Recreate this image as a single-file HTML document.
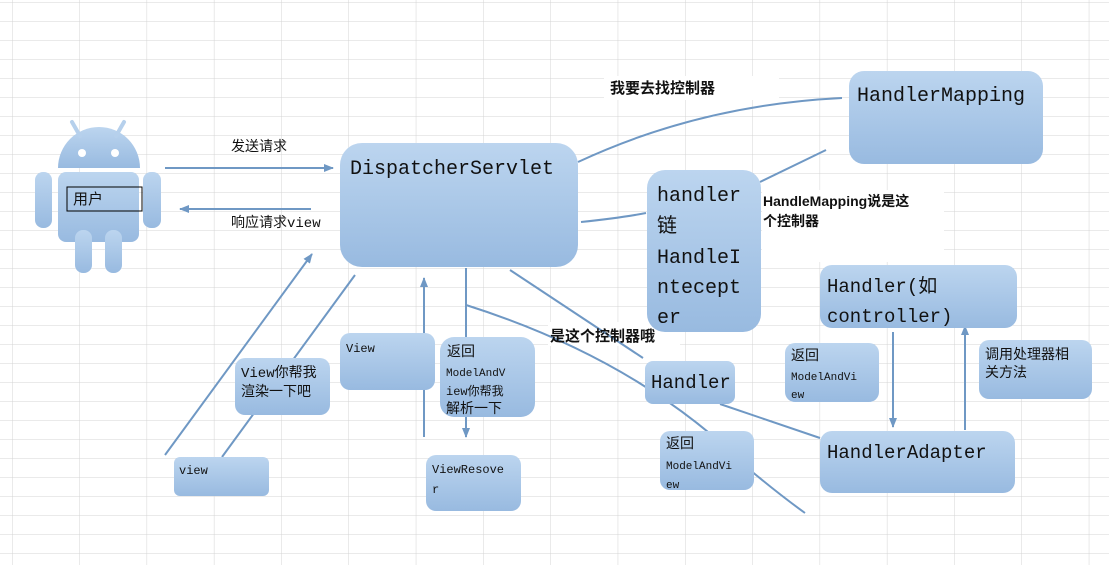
<!DOCTYPE html>
<html><head><meta charset="utf-8"><style>
html,body{margin:0;padding:0;background:#fff;}
svg{display:block;}
text{font-family:"Liberation Mono","Noto Sans CJK SC",monospace;fill:#111;}
.b{font-family:"Liberation Sans","Noto Sans CJK SC",sans-serif;font-weight:bold;}
</style></head><body>
<svg width="1109" height="565" viewBox="0 0 1109 565" xmlns="http://www.w3.org/2000/svg">
<defs>
<pattern id="grid" x="12" y="2" width="67.3" height="19" patternUnits="userSpaceOnUse">
<path d="M0 0V19M0 0H67.3" stroke="#d4d4d4" stroke-width="1" fill="none"/>
</pattern>
<linearGradient id="g" x1="0" y1="0" x2="0" y2="1">
<stop offset="0" stop-color="#bcd5ef"/><stop offset="1" stop-color="#98bae0"/>
</linearGradient>
<marker id="ar" markerWidth="10" markerHeight="8" refX="9" refY="4" orient="auto" markerUnits="userSpaceOnUse">
<path d="M0 0L10 4L0 8z" fill="#6f98c4"/>
</marker>
</defs>
<rect width="1109" height="565" fill="url(#grid)"/>
<!-- white label backgrounds -->
<rect x="604" y="76" width="175" height="24" fill="#fff"/>
<rect x="762" y="190" width="182" height="72" fill="#fff"/>
<rect x="548" y="322" width="132" height="24" fill="#fff"/>

<!-- android -->
<g fill="url(#g)">
<path d="M58 168A41 41 0 0 1 140 168Z"/>
<rect x="58" y="172" width="81" height="70" rx="8"/>
<rect x="35" y="172" width="17" height="56" rx="8"/>
<rect x="143" y="172" width="18" height="56" rx="8"/>
<rect x="75" y="230" width="17" height="43" rx="8"/>
<rect x="105" y="230" width="17" height="43" rx="8"/>
</g>
<path d="M72 122L80 136M124 122L116 136" stroke="#b6d0ec" stroke-width="4" stroke-linecap="round"/>
<circle cx="82" cy="153" r="4" fill="#fff"/><circle cx="115" cy="153" r="4" fill="#fff"/>
<rect x="67" y="187" width="75" height="24" fill="none" stroke="#000" stroke-width="1"/>
<text x="73" y="204" font-size="15">用户</text>

<!-- connectors -->
<g stroke="#6f98c4" stroke-width="2" fill="none">
<path d="M165 168H333" marker-end="url(#ar)"/>
<path d="M311 209H180" marker-end="url(#ar)"/>
<path d="M578 162Q700 105 842 98"/>
<path d="M581 222Q620 218 646 213"/>
<path d="M760 182L826 150"/>
<path d="M510 270L643 358"/>
<path d="M466 268V437" marker-end="url(#ar)"/>
<path d="M424 437V278" marker-end="url(#ar)"/>
<path d="M466 305Q640 360 750 470Q780 495 805 513"/>
<path d="M720 404L820 438"/>
<path d="M893 332V427" marker-end="url(#ar)"/>
<path d="M965 430V326" marker-end="url(#ar)"/>
<path d="M165 455L312 254" marker-end="url(#ar)"/>
<path d="M222 457L355 275"/>
</g>

<!-- boxes -->
<g fill="url(#g)">
<rect x="340" y="143" width="238" height="124" rx="22"/>
<rect x="849" y="71" width="194" height="93" rx="15"/>
<rect x="647" y="170" width="114" height="162" rx="18"/>
<rect x="820" y="265" width="197" height="63" rx="12"/>
<rect x="645" y="361" width="90" height="43" rx="8"/>
<rect x="820" y="431" width="195" height="62" rx="12"/>
<rect x="785" y="343" width="94" height="59" rx="10"/>
<rect x="979" y="340" width="113" height="59" rx="10"/>
<rect x="660" y="431" width="94" height="59" rx="10"/>
<rect x="426" y="455" width="95" height="56" rx="10"/>
<rect x="440" y="337" width="95" height="80" rx="14"/>
<rect x="340" y="333" width="95" height="57" rx="10"/>
<rect x="235" y="358" width="95" height="57" rx="10"/>
<rect x="174" y="457" width="95" height="39" rx="6"/>
</g>

<!-- texts -->
<text x="231" y="151" font-size="14">发送请求</text>
<text x="231" y="227" font-size="14">响应请求view</text>
<text x="350" y="174" font-size="20">DispatcherServlet</text>
<text x="857" y="101" font-size="20">HandlerMapping</text>
<text x="657" y="201" font-size="20">handler</text>
<text x="657" y="232" font-size="20">链</text>
<text x="657" y="263" font-size="20">HandleI</text>
<text x="657" y="293" font-size="20">ntecept</text>
<text x="657" y="323" font-size="20">er</text>
<text class="b" x="610" y="93" font-size="15">我要去找控制器</text>
<text class="b" x="763" y="206" font-size="14">HandleMapping说是这</text>
<text class="b" x="763" y="226" font-size="14">个控制器</text>
<text class="b" x="550" y="341" font-size="15">是这个控制器哦</text>
<text x="827" y="292" font-size="19">Handler(如</text>
<text x="827" y="322" font-size="19">controller)</text>
<text x="651" y="388" font-size="19">Handler</text>
<text x="827" y="458" font-size="19">HandlerAdapter</text>
<text x="791" y="360" font-size="14">返回</text>
<text x="791" y="380" font-size="11">ModelAndVi</text>
<text x="791" y="398" font-size="11">ew</text>
<text x="985" y="359" font-size="14">调用处理器相</text>
<text x="985" y="377" font-size="14">关方法</text>
<text x="666" y="448" font-size="14">返回</text>
<text x="666" y="469" font-size="11">ModelAndVi</text>
<text x="666" y="488" font-size="11">ew</text>
<text x="432" y="473" font-size="12">ViewResove</text>
<text x="432" y="493" font-size="12">r</text>
<text x="447" y="356" font-size="14">返回</text>
<text x="446" y="376" font-size="11">ModelAndV</text>
<text x="446" y="395" font-size="12">iew你帮我</text>
<text x="446" y="413" font-size="14">解析一下</text>
<text x="346" y="352" font-size="12">View</text>
<text x="241" y="377" font-size="14">View你帮我</text>
<text x="241" y="396" font-size="14">渲染一下吧</text>
<text x="179" y="474" font-size="12">view</text>
</svg>
</body></html>
